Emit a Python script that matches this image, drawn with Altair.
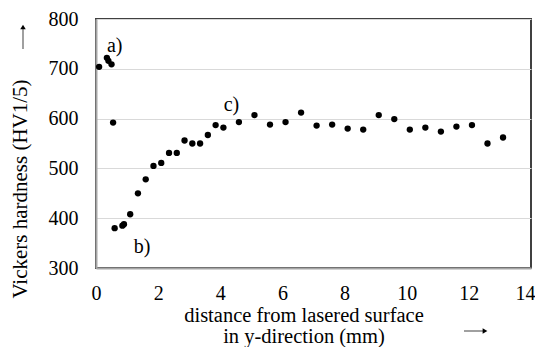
import altair as alt
import pandas as pd

dist = [0.1, 0.35, 0.4, 0.5, 0.55, 0.6, 0.85, 0.9, 1.1, 1.35, 1.6, 1.85, 2.1, 2.35, 2.6,
        2.85, 3.1, 3.35, 3.6, 3.85, 4.1, 4.6, 5.1, 5.6, 6.1, 6.6, 7.1, 7.6, 8.1, 8.6,
        9.1, 9.6, 10.1, 10.6, 11.1, 11.6, 12.1, 12.6, 13.1]
hard = [704, 722, 716, 709, 592, 380, 385, 388, 408, 450, 478, 505, 511, 531, 531,
        556, 550, 550, 567, 587, 582, 593, 607, 588, 593, 612, 586, 588, 580, 578,
        607, 599, 578, 582, 574, 584, 587, 550, 562]

ann_text = ["a)", "b)", "c)"]
ann_x = [0.6, 1.48, 4.36]
ann_y = [746, 343, 628]

x_title = ["distance from lasered surface", "in y-direction (mm)"]
y_title = "Vickers hardness (HV1/5)"

df = pd.DataFrame({"d": dist, "h": hard})
ann = pd.DataFrame({"t": ann_text, "x": ann_x, "y": ann_y})

FONT = "Liberation Serif"
W, H = 435, 249

xs = alt.Scale(domain=[0, 14], nice=False)
ys = alt.Scale(domain=[300, 800], nice=False)

points = alt.Chart(df).mark_circle(size=40, color="black", opacity=1).encode(
    x=alt.X("d:Q", scale=xs,
            axis=alt.Axis(values=list(range(0, 15, 2)), title=None, grid=False,
                          ticks=False, labelPadding=15, labelFontSize=20,
                          labelFont=FONT, labelColor="black", domainColor="#a6a6a6",
                          domainWidth=2, labelFlush=False,
                          labelAlign=alt.expr("datum.value == 14 ? 'right' : 'center'"),
                          labelOffset=alt.expr("datum.value == 14 ? 4 : 0"))),
    y=alt.Y("h:Q", scale=ys,
            axis=alt.Axis(values=list(range(300, 801, 100)), title=None,
                          grid=True, gridColor="#d9d9d9", gridWidth=1,
                          ticks=False, labelPadding=18, labelFontSize=20,
                          labelFont=FONT, labelColor="black", domainColor="#a6a6a6",
                          domainWidth=2)),
)

labels = alt.Chart(ann).mark_text(font=FONT, fontSize=20, color="black",
                                  align="center", baseline="middle").encode(
    x=alt.X("x:Q", scale=xs), y=alt.Y("y:Q", scale=ys), text="t:N")

xt1 = alt.Chart(pd.DataFrame({"t": [x_title[0]]})).mark_text(
    font=FONT, fontSize=20.5, color="black", align="center", baseline="middle"
).encode(text="t:N", x=alt.value(208), y=alt.value(297))
xt2 = alt.Chart(pd.DataFrame({"t": [x_title[1]]})).mark_text(
    font=FONT, fontSize=20.5, color="black", align="center", baseline="middle"
).encode(text="t:N", x=alt.value(208), y=alt.value(318))

yt = alt.Chart(pd.DataFrame({"t": [y_title]})).mark_text(
    font=FONT, fontSize=21, color="black", align="center", baseline="middle",
    angle=270
).encode(text="t:N", x=alt.value(-75), y=alt.value(170))

arrow_df = pd.DataFrame({"k": [0]})
xarrow_line = alt.Chart(arrow_df).mark_rule(color="#808080", strokeWidth=1.5).encode(
    x=alt.value(368), x2=alt.value(388), y=alt.value(312))
xarrow_head = alt.Chart(arrow_df).mark_point(shape="triangle-right", filled=True,
                                             color="black", size=30, opacity=1).encode(
    x=alt.value(389), y=alt.value(312))
yarrow_line = alt.Chart(arrow_df).mark_rule(color="#808080", strokeWidth=1.5).encode(
    x=alt.value(-73), y=alt.value(30), y2=alt.value(9))
yarrow_head = alt.Chart(arrow_df).mark_point(shape="triangle-up", filled=True,
                                             color="black", size=30, opacity=1).encode(
    x=alt.value(-73), y=alt.value(8))

chart = alt.layer(points, labels, xt1, xt2, yt, xarrow_line, xarrow_head,
                  yarrow_line, yarrow_head).properties(
    width=W, height=H,
    autosize=alt.AutoSizeParams(type="none"),
    padding={"left": 88, "top": 11, "right": 4, "bottom": 79},
    background="white",
).configure_view(stroke="#404040", strokeWidth=2)

chart.save("out.html", embed_options={"renderer": "svg", "actions": False})
